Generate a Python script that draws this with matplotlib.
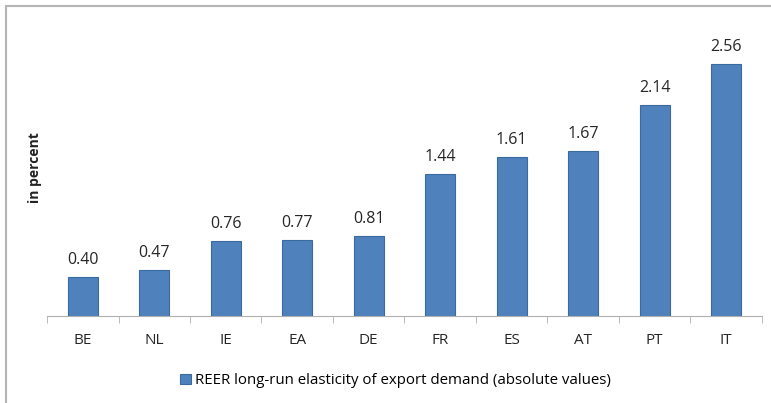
import matplotlib
matplotlib.use('Agg')
from matplotlib import pyplot as plt
from matplotlib.lines import Line2D

countries = ['BE', 'NL', 'IE', 'EA', 'DE', 'FR', 'ES', 'AT', 'PT', 'IT']
elasticity = [0.40, 0.47, 0.76, 0.77, 0.81, 1.44, 1.61, 1.67, 2.14, 2.56]
series_name = 'REER long-run elasticity of export demand (absolute values)'

plt.rcParams['font.family'] = ['Open Sans', 'DejaVu Sans']

fig = plt.figure(figsize=(7.71, 4.03), dpi=100)
ax = fig.add_axes([0.061, 0.216, 0.927, 0.734])

# outer chart frame: only the top and left edges show (clipped source)
fx = 5.5 / 771
fy = 1 - 5.5 / 403
fig.lines.append(Line2D([fx, 1.0], [fy, fy], transform=fig.transFigure,
                        color='#b5b5b5', linewidth=1.5))
fig.lines.append(Line2D([fx, fx], [0.0, fy], transform=fig.transFigure,
                        color='#b5b5b5', linewidth=1.5))

x = list(range(len(countries)))
bars = ax.bar(x, elasticity, width=0.42, color='#4f81bd',
              edgecolor='#3b6a9e', linewidth=0.8, label=series_name)

for xi, v in zip(x, elasticity):
    ax.text(xi, v + 0.09, '{:.2f}'.format(v), ha='center', va='bottom',
            fontsize=11.5, color='#262626')

ax.set_xlim(-0.5, len(countries) - 0.5)
ax.set_ylim(0, 3)
ax.set_xticks(x)
ax.set_xticklabels(countries, fontsize=11, color='#262626')
ax.set_xticks([i - 0.5 for i in range(len(countries) + 1)], minor=True)
ax.tick_params(axis='x', which='major', length=0, pad=12)
ax.tick_params(axis='x', which='minor', length=5, color='#b0b0b0')
ax.set_yticks([])
for s in ['top', 'right', 'left']:
    ax.spines[s].set_visible(False)
ax.spines['bottom'].set_color('#b0b0b0')

fig.text(0.045, 0.583, 'in percent', rotation=90, ha='center', va='center',
         fontsize=10, fontweight='bold', color='#222222')

fig.legend(handles=[bars], labels=[series_name], loc='center',
           bbox_to_anchor=(0.513, 0.055), frameon=False, fontsize=10.8,
           handlelength=0.7, handleheight=0.7, handletextpad=0.3)

plt.savefig('out.png', dpi=100)
